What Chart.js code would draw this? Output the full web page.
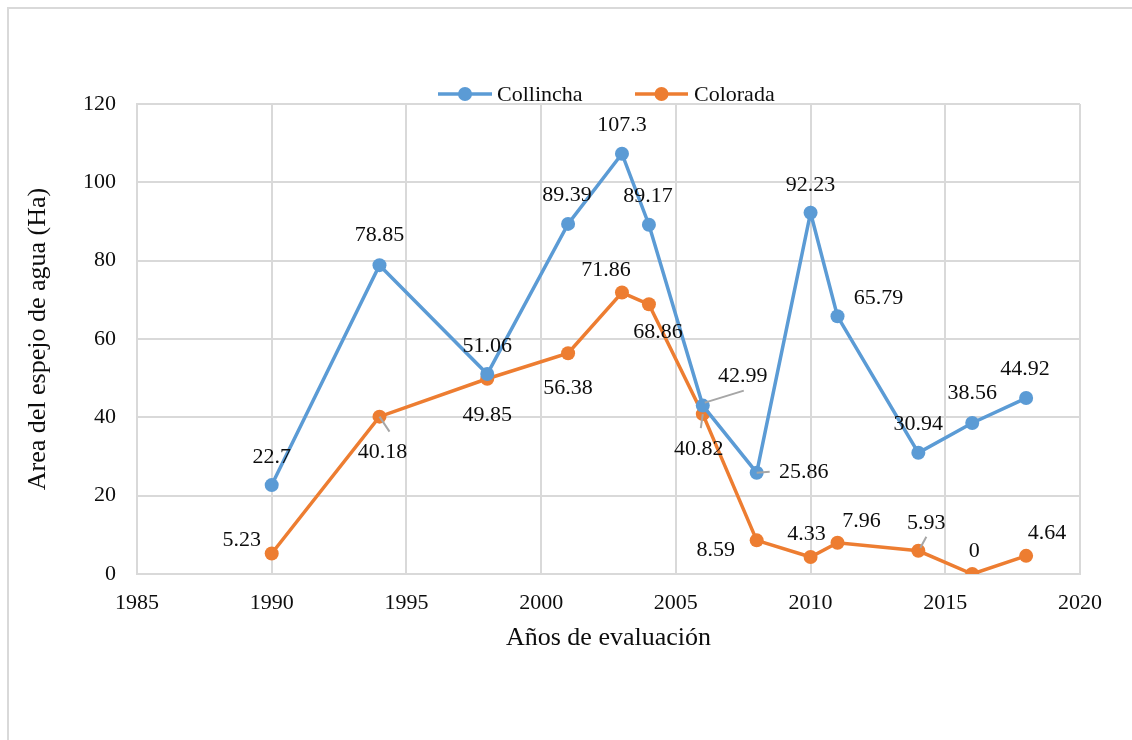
<!DOCTYPE html>
<html>
<head>
<meta charset="utf-8">
<title>Area del espejo de agua</title>
<script src="https://cdn.jsdelivr.net/npm/chart.js@4.4.1/dist/chart.umd.min.js"></script>
<style>
  html, body { margin: 0; padding: 0; background: #ffffff; }
  #wrap { width: 1132px; height: 740px; position: relative; }
</style>
</head>
<body>
<div id="wrap"><canvas id="chart" width="1132" height="740"></canvas></div>
<script>
// Evaluation years and surface area (Ha) of each lagoon
const years = [1990, 1994, 1998, 2001, 2003, 2004, 2006, 2008, 2010, 2011, 2014, 2016, 2018];
const collincha = [22.7, 78.85, 51.06, 89.39, 107.3, 89.17, 42.99, 25.86, 92.23, 65.79, 30.94, 38.56, 44.92];
const colorada = [5.23, 40.18, 49.85, 56.38, 71.86, 68.86, 40.82, 8.59, 4.33, 7.96, 5.93, 0, 4.64];
const seriesNames = ['Collincha', 'Colorada'];

// Axis ranges
const xMin = 1985, xMax = 2020, xStep = 5;
const yMin = 0, yMax = 120, yStep = 20;

const axisTitleX = 'Años de evaluación';
const axisTitleY = 'Area del espejo de agua (Ha)';

const BLUE = '#5B9BD5';
const ORANGE = '#ED7D31';
const GRID = '#d9d9d9';
const TEXT = '#0d0d0d';
const FONT = '"Liberation Serif", "Times New Roman", serif';

// Value label placement (text centre relative to the point, px)
const collinchaLabelOffsets = [
  [0, -29], [0, -31], [0, -29], [-1, -30], [0, -30], [-1, -30], [40, -30],
  [47, -1], [0, -29], [41, -19], [0, -30], [0, -31], [-1, -30]
];
const coloradaLabelOffsets = [
  [-30, -14], [3, 35], [0, 35], [0, 34], [-16, -23], [9, 27], [-4, 34],
  [-41, 9], [-4, -24], [24, -23], [8, -29], [2, -24], [21, -24]
];
// Leader lines for labels pushed away from their point: [x1, y1, x2, y2]
const collinchaLeaders = [null, null, null, null, null, null, [2, -3, 41, -15],
  [0, 0, 13, -1], null, null, null, null, null];
const coloradaLeaders = [null, [0, 0, 10, 15], null, null, null, null, [0, 0, -2, 14],
  null, null, null, [2, -3, 8, -14], null, null];

const toPoints = vals => years.map((x, i) => ({ x: x, y: vals[i] }));

// Frame, legend, axis titles and value labels
const decorations = {
  id: 'decorations',
  beforeDraw(chart) {
    const c = chart.ctx;
    c.save();
    c.fillStyle = '#ffffff';
    c.fillRect(0, 0, chart.width, chart.height);
    c.strokeStyle = GRID;
    c.lineWidth = 2;
    c.beginPath();
    c.moveTo(8, chart.height);
    c.lineTo(8, 8);
    c.lineTo(chart.width, 8);
    c.stroke();
    c.restore();
  },
  afterDraw(chart) {
    const c = chart.ctx;
    const area = chart.chartArea;
    c.save();

    // Legend
    const legendY = 94;
    const legendItems = [
      { name: seriesNames[0], color: BLUE, x1: 438, x2: 492, text: 497 },
      { name: seriesNames[1], color: ORANGE, x1: 635, x2: 688, text: 694 }
    ];
    legendItems.forEach(it => {
      c.strokeStyle = it.color;
      c.lineWidth = 3.5;
      c.beginPath();
      c.moveTo(it.x1, legendY);
      c.lineTo(it.x2, legendY);
      c.stroke();
      c.fillStyle = it.color;
      c.beginPath();
      c.arc((it.x1 + it.x2) / 2, legendY, 7, 0, Math.PI * 2);
      c.fill();
      c.fillStyle = TEXT;
      c.font = '22px ' + FONT;
      c.textAlign = 'left';
      c.textBaseline = 'middle';
      c.fillText(it.name, it.text, legendY + 1);
    });

    // Axis titles
    c.fillStyle = TEXT;
    c.font = '26px ' + FONT;
    c.textAlign = 'center';
    c.textBaseline = 'middle';
    c.fillText(axisTitleX, (area.left + area.right) / 2, 638);
    c.save();
    c.translate(38, (area.top + area.bottom) / 2);
    c.rotate(-Math.PI / 2);
    c.fillText(axisTitleY, 0, 0);
    c.restore();

    // Value labels
    const groups = [
      { values: collincha, offsets: collinchaLabelOffsets, leaders: collinchaLeaders, ds: 0 },
      { values: colorada, offsets: coloradaLabelOffsets, leaders: coloradaLeaders, ds: 1 }
    ];
    groups.forEach(g => {
      const meta = chart.getDatasetMeta(g.ds);
      meta.data.forEach((pt, i) => {
        const ld = g.leaders[i];
        if (ld) {
          c.strokeStyle = '#a6a6a6';
          c.lineWidth = 2;
          c.beginPath();
          c.moveTo(pt.x + ld[0], pt.y + ld[1]);
          c.lineTo(pt.x + ld[2], pt.y + ld[3]);
          c.stroke();
        }
        const off = g.offsets[i];
        c.fillStyle = TEXT;
        c.font = '22px ' + FONT;
        c.textAlign = 'center';
        c.textBaseline = 'middle';
        c.fillText(String(g.values[i]), pt.x + off[0], pt.y + off[1] + 1);
      });
    });
    c.restore();
  }
};

new Chart(document.getElementById('chart'), {
  type: 'scatter',
  data: {
    datasets: [
      {
        label: seriesNames[0],
        data: toPoints(collincha),
        showLine: true,
        borderColor: BLUE,
        backgroundColor: BLUE,
        borderWidth: 3.5,
        pointRadius: 7,
        pointBorderWidth: 0,
        pointHoverRadius: 7
      },
      {
        label: seriesNames[1],
        data: toPoints(colorada),
        showLine: true,
        borderColor: ORANGE,
        backgroundColor: ORANGE,
        borderWidth: 3.5,
        pointRadius: 7,
        pointBorderWidth: 0,
        pointHoverRadius: 7
      }
    ]
  },
  options: {
    responsive: false,
    animation: false,
    events: [],
    layout: { padding: { left: 0, top: 104, right: 52, bottom: 0 } },
    plugins: {
      legend: { display: false },
      title: { display: false },
      tooltip: { enabled: false }
    },
    scales: {
      x: {
        type: 'linear',
        min: xMin,
        max: xMax,
        afterFit(scale) { scale.height = 166; },
        ticks: {
          stepSize: xStep,
          padding: 16,
          color: TEXT,
          font: { family: FONT, size: 22 },
          callback: v => String(v),
          maxRotation: 0
        },
        grid: { color: GRID, lineWidth: 2, drawTicks: false },
        border: { color: GRID, width: 2 }
      },
      y: {
        min: yMin,
        max: yMax,
        afterFit(scale) { scale.width = 137; },
        ticks: {
          stepSize: yStep,
          padding: 21,
          color: TEXT,
          font: { family: FONT, size: 22 },
          callback: v => String(v)
        },
        grid: { color: GRID, lineWidth: 2, drawTicks: false },
        border: { color: GRID, width: 2 }
      }
    }
  },
  plugins: [decorations]
});
</script>
</body>
</html>
